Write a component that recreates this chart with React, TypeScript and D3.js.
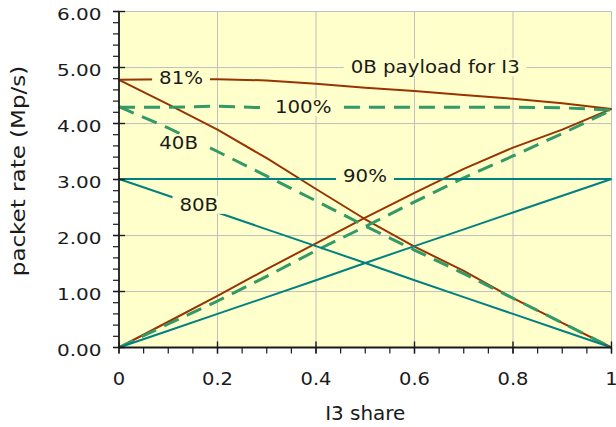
import { useEffect, useRef } from "react";
import * as d3 from "d3";

// I3 share on the x axis
const shares = [0, 0.1, 0.2, 0.3, 0.4, 0.5, 0.6, 0.7, 0.8, 0.9, 1];

// 81% (dark red)
const red81Total = [4.78, 4.79, 4.79, 4.77, 4.71, 4.64, 4.58, 4.51, 4.44, 4.36, 4.26];
const red81Other = [4.78, 4.34, 3.89, 3.38, 2.83, 2.29, 1.8, 1.37, 0.88, 0.44, 0];
const red81I3 = [0, 0.46, 0.92, 1.4, 1.86, 2.32, 2.76, 3.19, 3.57, 3.89, 4.26];

// 100% (green, dashed)
const green100Total = [4.29, 4.29, 4.31, 4.28, 4.29, 4.29, 4.29, 4.29, 4.29, 4.28, 4.24];
const green100Other = [4.3, 3.92, 3.5, 3.06, 2.62, 2.17, 1.74, 1.32, 0.88, 0.44, 0];
const green100I3 = [0, 0.42, 0.83, 1.27, 1.73, 2.16, 2.6, 3.03, 3.42, 3.82, 4.24];

// 90% (teal)
const teal90Total = [3.01, 3.01, 3.01, 3.01, 3.01, 3.01, 3.01, 3.01, 3.01, 3.01, 3.01];
const teal90Other = [3.01, 2.71, 2.41, 2.11, 1.81, 1.51, 1.2, 0.9, 0.6, 0.3, 0];
const teal90I3 = [0, 0.3, 0.6, 0.9, 1.2, 1.51, 1.81, 2.11, 2.41, 2.71, 3.01];

const xTicks = [0, 0.2, 0.4, 0.6, 0.8, 1];
const xTickLabels = ["0", "0.2", "0.4", "0.6", "0.8", "1"];
const yTicks = [0, 1, 2, 3, 4, 5, 6];
const yTickLabels = ["0.00", "1.00", "2.00", "3.00", "4.00", "5.00", "6.00"];

// annotation text and where its centre sits (share, rate)
const notes: [string, number, number][] = [
  ["81%", 0.126, 4.815],
  ["100%", 0.374, 4.297],
  ["40B", 0.121, 3.65],
  ["90%", 0.4995, 3.065],
  ["80B", 0.162, 2.55],
  ["0B payload for I3", 0.642, 5.01],
];

const RED = "#993300";
const GREEN = "#339966";
const TEAL = "#008080";
const BG = "#ffffcc";
const GRID = "#c0c0c0";
const INK = "#1a1a1a";
const FONT = "DejaVu Sans, Verdana, sans-serif";

type Series = { vals: number[]; color: string; dashed: boolean };

const series: Series[] = [
  { vals: red81Total, color: RED, dashed: false },
  { vals: red81Other, color: RED, dashed: false },
  { vals: red81I3, color: RED, dashed: false },
  { vals: green100Total, color: GREEN, dashed: true },
  { vals: green100Other, color: GREEN, dashed: true },
  { vals: green100I3, color: GREEN, dashed: true },
  { vals: teal90Total, color: TEAL, dashed: false },
  { vals: teal90Other, color: TEAL, dashed: false },
  { vals: teal90I3, color: TEAL, dashed: false },
];

export default function App() {
  const ref = useRef<SVGSVGElement>(null);

  useEffect(() => {
    const svg = d3.select(ref.current);
    svg.selectAll("*").remove();

    const x = d3.scaleLinear().domain([0, 1]).range([119, 611.5]);
    const y = d3.scaleLinear().domain([0, 6]).range([347.5, 11.5]);

    // text that is a bit wider than the font, like the original
    const txt = (
      parent: any,
      s: string,
      tx: number,
      ty: number,
      size: number,
      sx: number,
      anchor: string,
      rot = 0
    ) => {
      const g = parent
        .append("g")
        .attr("transform", `translate(${tx},${ty}) rotate(${rot}) scale(${sx},1)`);
      const t = g
        .append("text")
        .attr("text-anchor", anchor)
        .attr("font-family", FONT)
        .attr("font-size", size)
        .attr("fill", INK)
        .text(s);
      return { g, t };
    };

    svg.append("rect")
      .attr("x", x(0)).attr("y", y(6))
      .attr("width", x(1) - x(0)).attr("height", y(0) - y(6))
      .attr("fill", BG);

    // grid
    const grid = svg.append("g").attr("stroke", GRID).attr("stroke-width", 1);
    xTicks.slice(1).forEach((d) => {
      grid.append("line")
        .attr("x1", x(d)).attr("x2", x(d))
        .attr("y1", y(0)).attr("y2", y(6));
    });
    yTicks.slice(1).forEach((d) => {
      grid.append("line")
        .attr("x1", x(0)).attr("x2", x(1))
        .attr("y1", y(d)).attr("y2", y(d));
    });

    // lines
    const line = d3.line<number>()
      .x((_, i) => x(shares[i]))
      .y((d) => y(d));
    series.forEach((s) => {
      svg.append("path")
        .attr("d", line(s.vals))
        .attr("fill", "none")
        .attr("stroke", s.color)
        .attr("stroke-width", s.dashed ? 3 : 2)
        .attr("stroke-dasharray", s.dashed ? "16 9" : null)
        .attr("stroke-linejoin", "round");
    });

    // annotations with a background patch that breaks the lines
    notes.forEach(([s, nx, ny]) => {
      const size = 17.5, sx = 1.13;
      const { g, t } = txt(svg, s, x(nx), y(ny) + size * 0.365, size, sx, "middle");
      const bb = (t.node() as SVGTextElement).getBBox();
      const pad = 7 / sx;
      g.insert("rect", "text")
        .attr("x", bb.x - pad).attr("y", bb.y + 1)
        .attr("width", bb.width + pad * 2).attr("height", bb.height - 2)
        .attr("fill", BG);
    });

    // axes
    const ax = svg.append("g").attr("stroke", INK);
    ax.append("line")
      .attr("x1", x(0)).attr("x2", x(0))
      .attr("y1", y(6)).attr("y2", y(0))
      .attr("stroke-width", 1.8);
    ax.append("line")
      .attr("x1", x(0)).attr("x2", x(1))
      .attr("y1", y(0)).attr("y2", y(0))
      .attr("stroke-width", 1.8);

    d3.range(0, 30.5).map((i) => i * 0.2).forEach((d) => {
      ax.append("line")
        .attr("x1", x(0) - 6).attr("x2", x(0))
        .attr("y1", y(d)).attr("y2", y(d))
        .attr("stroke-width", 1.2);
    });
    yTicks.forEach((d, i) => {
      ax.append("line")
        .attr("x1", x(0) - 6).attr("x2", x(0) + 6)
        .attr("y1", y(d)).attr("y2", y(d))
        .attr("stroke-width", 1.4);
      txt(svg, yTickLabels[i], 101.5, y(d) + 8, 16, 1.25, "end");
    });

    d3.range(0, 20.5).map((i) => i * 0.05).forEach((d) => {
      ax.append("line")
        .attr("x1", x(d)).attr("x2", x(d))
        .attr("y1", y(0)).attr("y2", y(0) + 6)
        .attr("stroke-width", 1.2);
    });
    xTicks.forEach((d, i) => {
      ax.append("line")
        .attr("x1", x(d)).attr("x2", x(d))
        .attr("y1", y(0) - 6).attr("y2", y(0) + 6)
        .attr("stroke-width", 1.4);
      txt(svg, xTickLabels[i], x(d), 384.5, 17.4, 1.12, "middle");
    });

    txt(svg, "I3 share", (x(0) + x(1)) / 2, 420, 19, 1.05, "middle");
    txt(svg, "packet rate (Mp/s)", 25, 171, 19.5, 1.18, "middle", -90);
  }, []);

  return (
    <svg
      ref={ref}
      width={616}
      height={427}
      style={{ position: "absolute", left: 0, top: 0, background: "#fff" }}
    />
  );
}
